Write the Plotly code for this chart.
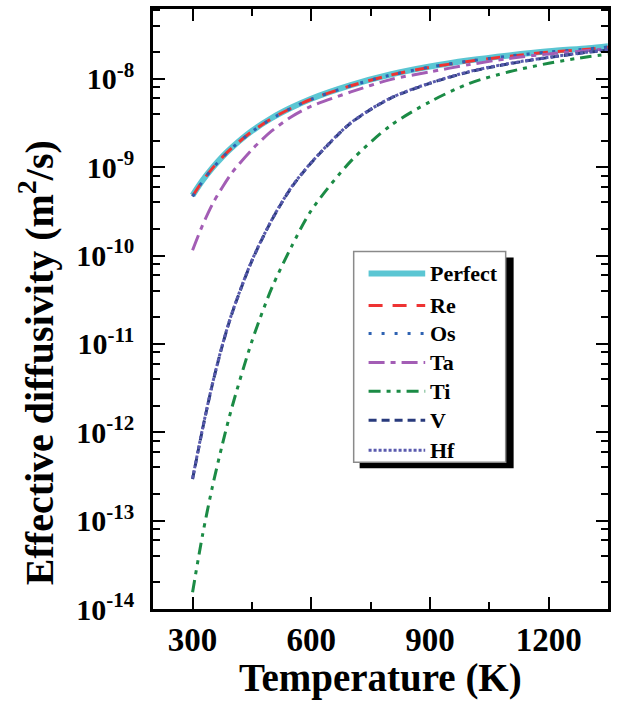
import plotly.graph_objects as go

# Temperature grid (K)
temperature = [300, 325, 350, 375, 400, 450, 500, 550, 600, 700, 800, 900, 1000, 1100, 1200, 1300, 1350]

# Effective diffusivity (m^2/s)
perfect = [4.8e-10, 7.05e-10, 9.8e-10, 1.31e-9, 1.68e-9, 2.57e-9, 3.6e-9, 4.73e-9, 5.96e-9,
           8.5e-9, 1.12e-8, 1.38e-8, 1.62e-8, 1.84e-8, 2.05e-8, 2.22e-8, 2.34e-8]
re = [4.7e-10, 6.95e-10, 9.7e-10, 1.29e-9, 1.66e-9, 2.53e-9, 3.55e-9, 4.66e-9, 5.87e-9,
      8.35e-9, 1.10e-8, 1.35e-8, 1.58e-8, 1.80e-8, 2.0e-8, 2.16e-8, 2.27e-8]
os_ = [4.65e-10, 6.9e-10, 9.65e-10, 1.28e-9, 1.65e-9, 2.52e-9, 3.54e-9, 4.65e-9, 5.86e-9,
       8.35e-9, 1.10e-8, 1.36e-8, 1.59e-8, 1.81e-8, 2.01e-8, 2.18e-8, 2.29e-8]
ta = [1.15e-10, 2.19e-10, 3.8e-10, 5.9e-10, 8.7e-10, 1.58e-9, 2.57e-9, 3.72e-9, 4.9e-9,
      7.1e-9, 9.8e-9, 1.2e-8, 1.45e-8, 1.70e-8, 1.91e-8, 2.09e-8, 2.19e-8]
ti = [1.55e-14, 6.8e-14, 2.4e-13, 7.2e-13, 1.95e-12, 1.07e-11, 4.27e-11, 1.26e-10, 3.24e-10,
      1.17e-9, 2.95e-9, 5.5e-9, 8.9e-9, 1.2e-8, 1.5e-8, 1.78e-8, 1.9e-8]
v = [2.95e-13, 1.07e-12, 3.47e-12, 9.5e-12, 2.24e-11, 8.7e-11, 2.51e-10, 5.9e-10, 1.12e-9,
     3.16e-9, 6.0e-9, 8.9e-9, 1.2e-8, 1.48e-8, 1.74e-8, 2.0e-8, 2.11e-8]
hf = [3.0e-13, 1.09e-12, 3.5e-12, 9.6e-12, 2.26e-11, 8.8e-11, 2.53e-10, 5.95e-10, 1.13e-9,
      3.18e-9, 6.05e-9, 8.95e-9, 1.21e-8, 1.49e-8, 1.75e-8, 2.01e-8, 2.12e-8]

names = ["Perfect", "Re", "Os", "Ta", "Ti", "V", "Hf"]
series = [perfect, re, os_, ta, ti, v, hf]
colors = ["#5BC6D3", "#EE3333", "#2E62B2", "#A35DB5", "#1B8B45", "#283A7C", "#5A5BAE"]
widths = [6, 3, 3, 3, 3, 3, 3]
dashes = ["solid", "14px,10px", "3px,10px", "16px,6px,5px,6px", "12px,6px,4px,6px,4px,6px", "8px,5px", "3px,2px"]

x_ticks = [300, 600, 900, 1200]
y_tickvals = [1e-14, 1e-13, 1e-12, 1e-11, 1e-10, 1e-9, 1e-8]
y_ticktext = ["10<sup>-14</sup>", "10<sup>-13</sup>", "10<sup>-12</sup>", "10<sup>-11</sup>",
              "10<sup>-10</sup>", "10<sup>-9</sup>", "10<sup>-8</sup>"]
y_minor = [m * 10.0 ** e for e in range(-14, -7) for m in (2, 4, 6, 8)]

FONT = "Liberation Serif"

# plot-area geometry in pixels (layout only)
W, H = 617, 702
ML, MR, MT, MB = 153, 6, 8, 93
PW, PH = W - ML - MR, H - MT - MB


def px(x):
    return (x - ML) / PW


def py(y):
    return (H - MB - y) / PH


fig = go.Figure()
for name, ys, c, w, d in zip(names, series, colors, widths, dashes):
    fig.add_trace(go.Scatter(
        x=temperature, y=ys, name=name, mode="lines",
        line=dict(color=c, width=w, dash=d, shape="spline", smoothing=0.8),
        showlegend=False,
    ))

axis_common = dict(
    showline=True, linecolor="black", linewidth=2.5, mirror="allticks",
    ticks="inside", ticklen=12, tickwidth=2, tickcolor="black",
    showgrid=False, zeroline=False,
)

# Legend drawn as a boxed key with a drop shadow
shapes = [
    dict(type="rect", xref="paper", yref="paper", x0=px(361), x1=px(516), y0=py(468), y1=py(257),
         fillcolor="black", line=dict(width=0), layer="above"),
    dict(type="rect", xref="paper", yref="paper", x0=px(355), x1=px(508), y0=py(462), y1=py(251),
         fillcolor="white", line=dict(color="#8a8a8a", width=1.5), layer="above"),
]
annotations = []
row_y = [273, 305, 333, 362, 391, 420, 450]
for name, c, w, d, ry in zip(names, colors, widths, dashes, row_y):
    shapes.append(dict(type="line", xref="paper", yref="paper", x0=px(370), x1=px(427),
                       y0=py(ry), y1=py(ry), line=dict(color=c, width=w, dash=d), layer="above"))
    annotations.append(dict(text=name, xref="paper", yref="paper", x=px(430), y=py(ry),
                            xanchor="left", yanchor="middle", showarrow=False,
                            font=dict(family=FONT, size=22, color="black", weight="bold")))

annotations += [
    dict(text="Temperature (K)", xref="paper", yref="paper", x=0.5, y=-0.075,
         xanchor="center", yanchor="top", showarrow=False,
         font=dict(family=FONT, size=39, color="black", weight="bold")),
    dict(text="Effective diffusivity (m<sup>2</sup>/s)", xref="paper", yref="paper",
         x=px(36), y=py(362), xanchor="center", yanchor="middle", textangle=-90, showarrow=False,
         font=dict(family=FONT, size=40, color="black", weight="bold")),
]

fig.update_layout(
    width=W, height=H,
    margin=dict(l=ML, r=MR, t=MT, b=MB),
    paper_bgcolor="white", plot_bgcolor="white",
    font=dict(family=FONT, color="black"),
    xaxis=dict(
        range=[200, 1350], tickmode="array", tickvals=x_ticks,
        ticktext=[str(t) for t in x_ticks],
        tickfont=dict(family=FONT, size=33, color="black", weight="bold"),
        minor=dict(dtick=150, tick0=0, ticks="inside", ticklen=7, tickwidth=2, tickcolor="black"),
        **axis_common,
    ),
    yaxis=dict(
        type="log", range=[-14, -7.21], tickmode="array", tickvals=y_tickvals, ticktext=y_ticktext,
        tickfont=dict(family=FONT, size=30, color="black", weight="bold"),
        ticklabelstandoff=10,
        minor=dict(tickmode="array", tickvals=y_minor, ticks="inside", ticklen=7, tickwidth=2, tickcolor="black"),
        **axis_common,
    ),
    showlegend=False,
    shapes=shapes,
    annotations=annotations,
)

fig.write_html("out.html")
